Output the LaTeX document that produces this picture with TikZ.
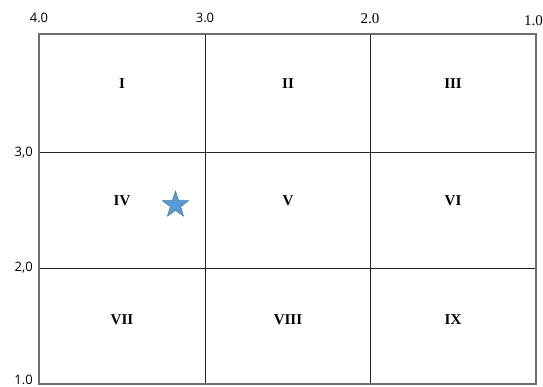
\documentclass[tikz,border=0pt]{standalone}
\usepackage{fontspec}
\setmainfont{Liberation Serif}
\newfontfamily\labsans{Open Sans}
\usetikzlibrary{shapes.geometric}
\definecolor{frameg}{HTML}{6E6E6E}
\definecolor{starfill}{HTML}{5B9BD5}
\definecolor{starline}{HTML}{41719C}
\tikzset{
  roman/.style={font=\fontsize{15}{17}\selectfont\bfseries, inner sep=0pt},
  topsans/.style={font=\labsans\fontsize{13}{15}\selectfont, inner sep=0pt},
  topserif/.style={font=\fontsize{15}{17}\selectfont, inner sep=0pt},
  leftlab/.style={font=\labsans\fontsize{13}{15}\selectfont, inner sep=0pt, anchor=east},
  gridline/.style={draw=black!85, line width=0.9pt},
  frameline/.style={draw=frameg, line width=1.6pt},
}
\begin{document}
\begin{tikzpicture}[x=1pt,y=-1pt]
\useasboundingbox (0,0) rectangle (543,387);
% grid coordinates
\coordinate (tl) at (39,34);
\coordinate (br) at (536,384);
\coordinate (v1t) at (205,34);
\coordinate (v1b) at (205,384);
\coordinate (v2t) at (370,34);
\coordinate (v2b) at (370,384);
\coordinate (h1l) at (39,152);
\coordinate (h1r) at (536,152);
\coordinate (h2l) at (39,268);
\coordinate (h2r) at (536,268);
\draw[gridline] (v1t) -- (v1b);
\draw[gridline] (v2t) -- (v2b);
\draw[gridline] (h1l) -- (h1r);
\draw[gridline] (h2l) -- (h2r);
\draw[frameline] (tl) rectangle (br);
% top labels
\node[topsans] (t4) at (39,17.5) {4.0};
\node[topsans] (t3) at (205,17.5) {3.0};
\node[topserif] (t2) at (370,18.5) {2.0};
\node[topserif, anchor=east] (t1) at (543,21) {1.0};
% left labels
\node[leftlab] (l3) at (33,153) {3,0};
\node[leftlab] (l2) at (33,268) {2,0};
\node[leftlab] (l1) at (33,379.5) {1.0};
% roman numerals
\node[roman] (r1) at (122,84) {I};
\node[roman] (r2) at (288,84) {II};
\node[roman] (r3) at (453,84) {III};
\node[roman] (r4) at (122,201) {IV};
\node[roman] (r5) at (288,201) {V};
\node[roman] (r6) at (453,201) {VI};
\node[roman] (r7) at (122,320) {VII};
\node[roman] (r8) at (288,320) {VIII};
\node[roman] (r9) at (453,320) {IX};
% star
\node[star, star points=5, star point ratio=2.55, minimum size=27.5pt, inner sep=0pt,
      fill=starfill, draw=starline, line width=0.5pt] (st) at (175.5,205) {};
\end{tikzpicture}
\end{document}
